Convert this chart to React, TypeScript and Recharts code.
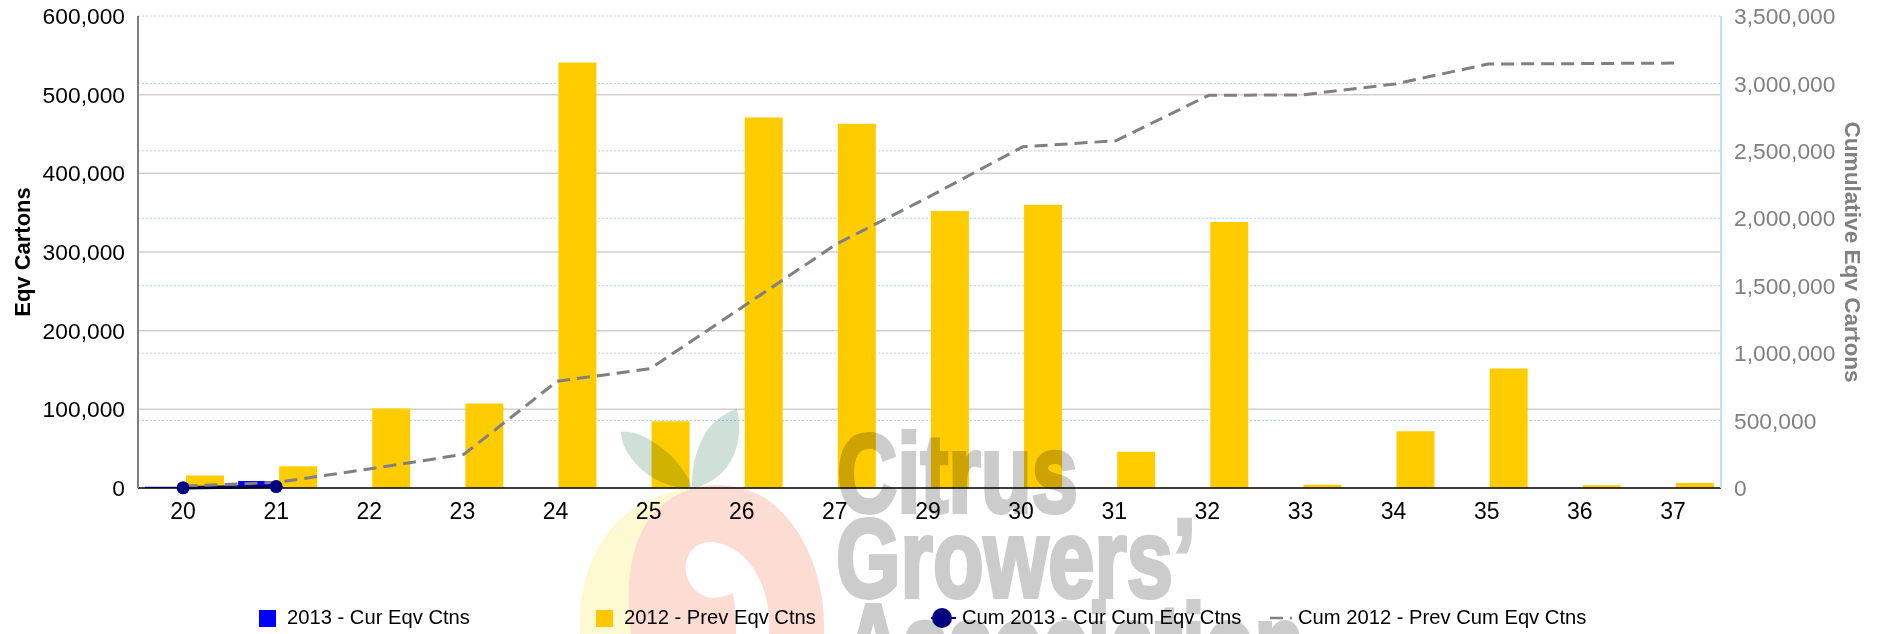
import React from 'react';
import { ComposedChart, Bar, Line, XAxis, YAxis, CartesianGrid } from 'recharts';

const weeks = ['20', '21', '22', '23', '24', '25', '26', '27', '29', '30', '31', '32', '33', '34', '35', '36', '37'];
const curEqv = [1500, 9000, null, null, null, null, null, null, null, null, null, null, null, null, null, null, null];
const prevEqv = [16000, 27500, 101000, 107500, 541000, 85000, 471000, 463000, 352000, 360000, 46000, 338000, 4000, 72000, 152000, 3500, 6500];
const curCum = [1500, 10500, null, null, null, null, null, null, null, null, null, null, null, null, null, null, null];
const prevCum = [15000, 42000, 143000, 250000, 791000, 885000, 1346000, 1809000, 2161000, 2530000, 2575000, 2912000, 2915000, 2996000, 3144000, 3147000, 3151000];

const leftTicks = [0, 100000, 200000, 300000, 400000, 500000, 600000];
const rightTicks = [0, 500000, 1000000, 1500000, 2000000, 2500000, 3000000, 3500000];
const solidGridValues = [100000, 200000, 300000, 400000, 500000];

const data = weeks.map((week, i) => ({
  week,
  curEqv: curEqv[i],
  prevEqv: prevEqv[i],
  curCum: curCum[i],
  prevCum: prevCum[i],
}));

const FONT = '"Liberation Sans", Arial, sans-serif';
const fmt = (v: number) => v.toLocaleString('en-US');

function LegendRow() {
  const items = [
    { name: '2013 - Cur Eqv Ctns', kind: 'blue' },
    { name: '2012 - Prev Eqv Ctns', kind: 'gold' },
    { name: 'Cum 2013 - Cur Cum Eqv Ctns', kind: 'dot' },
    { name: 'Cum 2012 - Prev Cum Eqv Ctns', kind: 'dash' },
  ];
  return (
    <div style={{ position: 'absolute', left: 259, top: 606, display: 'flex', fontFamily: FONT, fontSize: 20.2, color: '#000' }}>
      {items.map((item) => (
        <div key={item.name} style={{ width: 337, height: 24, position: 'relative', whiteSpace: 'nowrap' }}>
          <svg width={28} height={24} style={{ position: 'absolute', left: item.kind === 'dot' ? -2 : 0, top: 0 }}>
            {item.kind === 'blue' && <rect x={0} y={4} width={17} height={17} fill="#0000ff" />}
            {item.kind === 'gold' && <rect x={0} y={4} width={17} height={17} fill="#ffcc00" />}
            {item.kind === 'dot' && (
              <g>
                <line x1={0} x2={25} y1={12} y2={12} stroke="#000080" strokeWidth={2} />
                <circle cx={11} cy={12} r={10} fill="#000080" />
              </g>
            )}
            {item.kind === 'dash' && <line x1={0} x2={22} y1={12} y2={12} stroke="#808080" strokeWidth={2.5} strokeDasharray="13 7" />}
          </svg>
          <span style={{ position: 'absolute', left: item.kind === 'dot' ? 29 : 28, top: 0 }}>{item.name}</span>
        </div>
      ))}
    </div>
  );
}

// logo sits over the chart, multiplied like the original watermark image
function Watermark() {
  const txt = { fontFamily: '"Liberation Sans Narrow", "Liberation Sans", sans-serif', fontWeight: 700, fill: '#cccccc', stroke: '#cccccc', strokeWidth: 4 };
  return (
    <svg width={1885} height={634} style={{ position: 'absolute', left: 0, top: 0, mixBlendMode: 'multiply', pointerEvents: 'none' }}>
      <path d="M580 634 C578 590 590 545 625 515 C650 495 690 482 730 487 L665 520 L640 634 Z" fill="#fdfad2" />
      <path
        fillRule="evenodd"
        d="M631 634 C624 580 632 530 662 505 C690 482 730 478 765 498 C805 525 826 580 824 634 Z
           M736 634 C736 618 735 604 733 593 C722 598 710 600 702 595 C690 588 684 575 686 562 C689 548 700 541 713 542 C735 545 752 560 762 585 C768 600 770 618 769 634 Z"
        fill="#fddcd4"
      />
      <path d="M621 432 C634 430 650 438 667 452 C680 464 690 478 692 489 C672 488 650 480 637 465 C626 453 621 442 621 432 Z" fill="#cfe0d8" />
      <path d="M737 409 C742 430 738 452 727 467 C717 480 703 486 692 489 C691 470 696 448 706 432 C715 419 727 412 737 409 Z" fill="#cfe0d8" />
      <text x={837} y={512} fontSize={112} textLength={241} lengthAdjust="spacingAndGlyphs" {...txt}>Citrus</text>
      <text x={836} y={597} fontSize={112} textLength={360} lengthAdjust="spacingAndGlyphs" {...txt}>Growers’</text>
      <text x={844} y={682} fontSize={112} textLength={460} lengthAdjust="spacingAndGlyphs" {...txt}>Association</text>
    </svg>
  );
}

export default function App() {
  return (
    <div style={{ position: 'absolute', left: 0, top: 0, width: 1885, height: 634, overflow: 'hidden', background: '#fff' }}>
      <ComposedChart width={1885} height={634} data={data} margin={{ top: 16, right: 0, bottom: 0, left: 0 }} barGap={3} style={{ fontFamily: FONT }}>
        <CartesianGrid yAxisId="left" xAxisId="main" horizontal vertical={false} horizontalValues={solidGridValues} stroke="#d0d0d0" strokeWidth={1.5} />
        <CartesianGrid yAxisId="right" xAxisId="main" horizontal vertical={false} stroke="#a8d4ff" strokeDasharray="2 2" />
        <XAxis
          xAxisId="main"
          dataKey="week"
          height={146}
          interval={0}
          tickLine={false}
          axisLine={{ stroke: '#000', strokeWidth: 1.5 }}
          tick={{ fontSize: 23, fill: '#000', dx: -1.5 }}
          tickMargin={9}
        />
        <XAxis xAxisId="shift" dataKey="week" hide height={146} padding={{ left: -1.5, right: 1.5 }} />
        <YAxis
          yAxisId="left"
          width={138}
          domain={[0, 600000]}
          ticks={leftTicks}
          tickFormatter={fmt}
          tickLine={false}
          axisLine={{ stroke: '#808080', strokeWidth: 2 }}
          tick={{ fontSize: 22.8, fill: '#000' }}
          tickMargin={7}
          label={{ value: 'Eqv Cartons', angle: -90, position: 'center', dx: -47, style: { fontSize: 22, fontWeight: 700, fill: '#000' } }}
        />
        <YAxis
          yAxisId="right"
          orientation="right"
          width={164}
          domain={[0, 3500000]}
          ticks={rightTicks}
          tickFormatter={fmt}
          tickLine={false}
          axisLine={{ stroke: '#c4dffc', strokeWidth: 2 }}
          tick={{ fontSize: 22.8, fill: '#808080' }}
          tickMargin={7}
          label={{ value: 'Cumulative Eqv Cartons', angle: 90, position: 'center', dx: 50, style: { fontSize: 22.6, fontWeight: 700, fill: '#808080' } }}
        />
        <Bar xAxisId="main" yAxisId="left" dataKey="curEqv" name="2013 - Cur Eqv Ctns" fill="#0000ff" barSize={38} isAnimationActive={false} />
        <Bar xAxisId="main" yAxisId="left" dataKey="prevEqv" name="2012 - Prev Eqv Ctns" fill="#ffcc00" barSize={38} isAnimationActive={false} />
        <Line
          xAxisId="shift"
          yAxisId="right"
          dataKey="curCum"
          name="Cum 2013 - Cur Cum Eqv Ctns"
          stroke="#000080"
          strokeWidth={3.5}
          dot={{ r: 6.5, fill: '#000080', stroke: '#000080', strokeWidth: 0 }}
          connectNulls={false}
          isAnimationActive={false}
        />
        <Line
          xAxisId="main"
          yAxisId="right"
          dataKey="prevCum"
          name="Cum 2012 - Prev Cum Eqv Ctns"
          stroke="#808080"
          strokeWidth={3}
          strokeDasharray="13 7"
          dot={false}
          isAnimationActive={false}
        />
      </ComposedChart>
      <LegendRow />
      <Watermark />
    </div>
  );
}
